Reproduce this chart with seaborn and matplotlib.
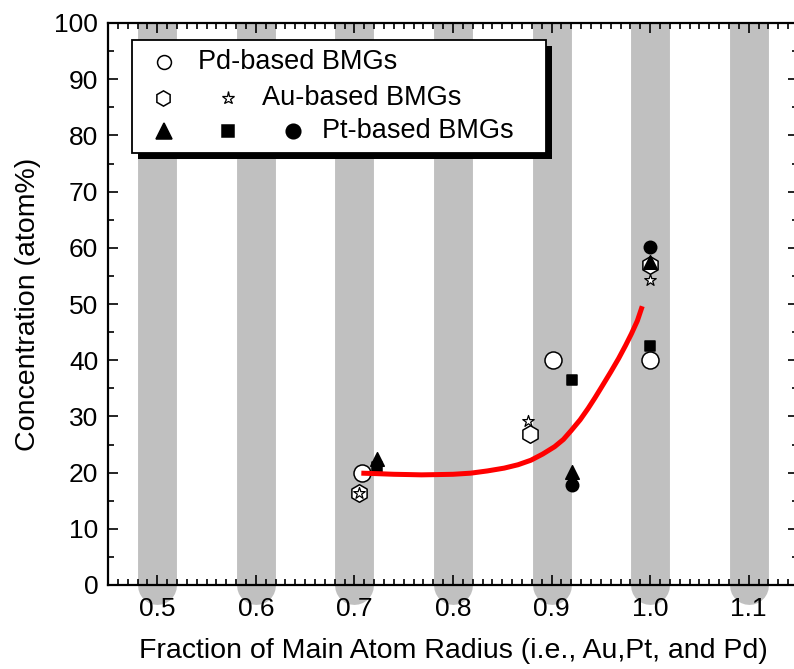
import matplotlib
matplotlib.use("Agg")
import matplotlib.pyplot as plt
import seaborn as sns
import numpy as np
import pandas as pd
from matplotlib.transforms import Bbox, TransformedBbox
from matplotlib.patches import Rectangle
from matplotlib.lines import Line2D
from matplotlib.ticker import MultipleLocator, FormatStrFormatter

# ---------------- data ----------------
band_x = [0.5, 0.6, 0.7, 0.8, 0.9, 1.0, 1.1]

pd_x = [0.708, 0.901, 1.0]
pd_y = [20.0, 40.0, 40.0]

au_hex_x = [0.705, 0.878, 1.0]
au_hex_y = [16.4, 26.9, 57.0]
au_star_x = [0.705, 0.876, 1.0]
au_star_y = [16.4, 29.2, 54.3]

pt_tri_x = [0.723, 0.921, 1.0]
pt_tri_y = [22.5, 20.1, 57.5]
pt_sq_x = [0.723, 0.921, 1.0]
pt_sq_y = [21.0, 36.5, 42.5]
pt_cir_x = [0.921, 1.0]
pt_cir_y = [17.8, 60.1]

fit_x = [0.707, 0.725, 0.74, 0.755, 0.768, 0.785, 0.80, 0.818, 0.835, 0.852, 0.866,
         0.879, 0.891, 0.903, 0.912, 0.920, 0.929, 0.937, 0.944, 0.951, 0.960,
         0.968, 0.975, 0.981, 0.987, 0.992]
fit_y = [19.9, 19.8, 19.7, 19.65, 19.6, 19.65, 19.7, 19.9, 20.3, 20.8, 21.4,
         22.2, 23.3, 24.6, 25.9, 27.5, 29.4, 31.4, 33.3, 35.3, 37.9,
         40.3, 42.6, 44.7, 47.0, 49.6]

legend_rows = ["Pd-based BMGs", "Au-based BMGs", "Pt-based BMGs"]

# ---------------- style ----------------
sns.set_theme(style="ticks")
plt.rcParams['font.family'] = ['Liberation Sans', 'DejaVu Sans']
plt.rcParams['text.color'] = 'black'
plt.rcParams['axes.labelcolor'] = 'black'
plt.rcParams['xtick.color'] = 'black'
plt.rcParams['ytick.color'] = 'black'
plt.rcParams['xtick.direction'] = 'in'
plt.rcParams['ytick.direction'] = 'in'

W, H = 794, 669
fig = plt.figure(figsize=(W / 100, H / 100), dpi=100)
ax = fig.add_axes([108 / W, (H - 585) / H, (798 - 108) / W, (585 - 23) / H])
ax.set_facecolor('white')

def fx(px):
    return px / W

def fy(py):
    return 1 - py / H

# gray bands with round bottom caps
clipbox = TransformedBbox(Bbox([[0, -0.2], [1, 1]]), ax.transAxes)
for bx in band_x:
    ln, = ax.plot([bx, bx], [0, 100], color='#c0c0c0', lw=28,
                  solid_capstyle='round', zorder=0.5)
    ln.set_clip_path(None)
    ln.set_clip_box(clipbox)

# data markers
def sc(x, y, marker, s, face, lw=1.1, z=3):
    sns.scatterplot(x=x, y=y, marker=marker, s=s, color=face,
                    edgecolor='black', linewidth=lw, ax=ax, zorder=z, legend=False)

sc(pd_x, pd_y, 'o', 150, 'white', z=3)
sc(au_hex_x, au_hex_y, 'h', 160, 'white', z=3.1)
sc(au_star_x, au_star_y, '*', 75, 'white', lw=0.9, z=3.2)
sc(pt_cir_x, pt_cir_y, 'o', 80, 'black', z=3.3)
sc(pt_sq_x, pt_sq_y, 's', 62, 'black', z=3.4)
sc(pt_tri_x, pt_tri_y, '^', 95, 'black', z=3.5)

fit_df = pd.DataFrame({'x': fit_x, 'y': fit_y})
sns.lineplot(data=fit_df, x='x', y='y', color='#ff0000', lw=3.6, sort=False,
             estimator=None, ax=ax, zorder=4, solid_capstyle='butt',
             solid_joinstyle='round')

# axes
ax.set_xlim(0.45, 1.15)
ax.set_ylim(0, 100)
ax.xaxis.set_major_locator(MultipleLocator(0.1))
ax.xaxis.set_minor_locator(MultipleLocator(0.01))
ax.xaxis.set_major_formatter(FormatStrFormatter('%.1f'))
ax.yaxis.set_major_locator(MultipleLocator(10))
ax.yaxis.set_minor_locator(MultipleLocator(5))
ax.tick_params(which='both', top=True, right=True, direction='in', width=1.2,
               colors='black', labelsize=19)
ax.tick_params(which='major', length=7.5, pad=7)
ax.tick_params(axis='x', which='major', pad=9)
ax.tick_params(which='minor', length=4)
for sp in ax.spines.values():
    sp.set_visible(True)
    sp.set_linewidth(1.6)
    sp.set_color('black')
    sp.set_zorder(5)

ax.set_xlabel("Fraction of Main Atom Radius (i.e., Au,Pt, and Pd)", fontsize=20.5, labelpad=12)
ax.set_ylabel("Concentration (atom%)", fontsize=20.5, labelpad=10)

# custom legend box with shadow
fig.add_artist(Rectangle((fx(138), fy(159)), fx(552) - fx(138), fy(46) - fy(159),
                         transform=fig.transFigure, facecolor='black',
                         edgecolor='none', zorder=5))
fig.add_artist(Rectangle((fx(132), fy(153)), fx(546) - fx(132), fy(40) - fy(153),
                         transform=fig.transFigure, facecolor='white',
                         edgecolor='black', lw=1.3, zorder=5.1))

def lm(px, py, marker, ms, face, mew=1.1):
    fig.add_artist(Line2D([fx(px)], [fy(py)], marker=marker, markersize=ms,
                          markerfacecolor=face, markeredgecolor='black',
                          markeredgewidth=mew, linestyle='none',
                          transform=fig.transFigure, zorder=6))

lm(164, 62, 'o', 10, 'white')
lm(163, 98, 'h', 11, 'white')
lm(228, 98, '*', 9.5, 'white', mew=0.9)
lm(164, 131, '^', 11.5, 'black')
lm(228, 131, 's', 8.5, 'black')
lm(293, 131, 'o', 10.5, 'black')

fig.text(fx(198), fy(62), legend_rows[0], fontsize=19.5, va='center', ha='left', zorder=6)
fig.text(fx(262), fy(98), legend_rows[1], fontsize=19.5, va='center', ha='left', zorder=6)
fig.text(fx(322), fy(131), legend_rows[2], fontsize=19.5, va='center', ha='left', zorder=6)

fig.savefig("out.png", dpi=100, facecolor='white')
